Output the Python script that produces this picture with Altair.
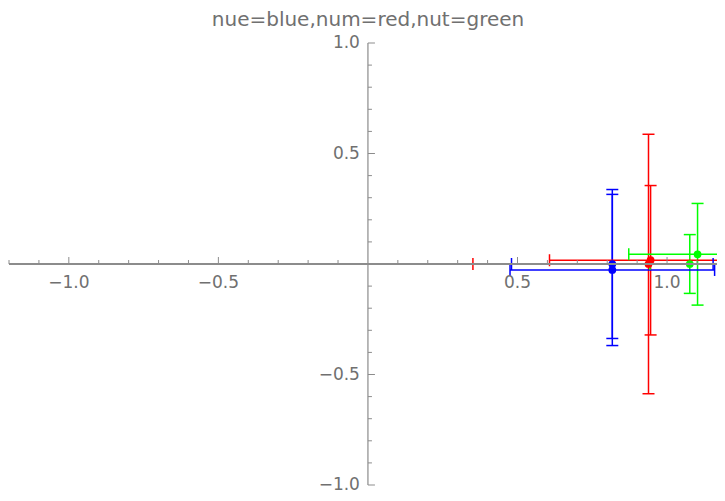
import altair as alt
import pandas as pd

# ---- data ----
series = ["nue", "nue", "num", "num", "nut", "nut"]
x_vals = [0.817, 0.817, 0.938, 0.945, 1.076, 1.102]
y_vals = [0.0, -0.027, 0.0, 0.017, 0.0, 0.044]
errors = [0.337, 0.342, 0.587, 0.338, 0.133, 0.230]

series_names = ["nue", "num", "nut"]
series_colors = ["#0000ff", "#ff0000", "#00ff00"]

title_text = ["nue=blue,num=red,nut=green"]

x_domain = [-1.2, 1.167]
y_domain = [-1.0, 1.0]

x_minor_ticks = [-1.2, -1.1, -0.9, -0.8, -0.7, -0.6, -0.4, -0.3, -0.2, -0.1,
                 0.1, 0.2, 0.3, 0.4, 0.6, 0.7, 0.8, 0.9, 1.1]
x_major_ticks = [-1.0, -0.5, 0.5, 1.0]
x_tick_labels = ["\u22121.0", "\u22120.5", "0.5", "1.0"]

y_minor_ticks = [-0.9, -0.8, -0.7, -0.6, -0.4, -0.3, -0.2, -0.1,
                 0.1, 0.2, 0.3, 0.4, 0.6, 0.7, 0.8, 0.9]
y_major_ticks = [-1.0, -0.5, 0.5, 1.0]
y_tick_labels = ["\u22121.0", "\u22120.5", "0.5", "1.0"]

AXIS_COLOR = "#8c8c8c"
TEXT_COLOR = "#707070"
FONT = "DejaVu Sans"

# ---- tables ----
df = pd.DataFrame({"s": series, "x": x_vals, "y": y_vals, "e": errors})
df["xlo"] = df["x"] - df["e"]
df["xhi"] = df["x"] + df["e"]
df["ylo"] = df["y"] - df["e"]
df["yhi"] = df["y"] + df["e"]

xs = alt.Scale(domain=x_domain, nice=False, zero=False)
ys = alt.Scale(domain=y_domain, nice=False, zero=False)
col = alt.Color("s:N", scale=alt.Scale(domain=series_names, range=series_colors), legend=None)


def X(f):
    return alt.X(f, type="quantitative", scale=xs, axis=None)


def Y(f):
    return alt.Y(f, type="quantitative", scale=ys, axis=None)


base = alt.Chart(df)

v_bars = base.mark_rule(strokeWidth=1.5, clip=True).encode(
    x=X("x"), y=Y("ylo"), y2="yhi", color=col)
h_bars = base.mark_rule(strokeWidth=1.5, clip=True).encode(
    x=X("xlo"), x2="xhi", y=Y("y"), color=col)
v_cap_lo = base.mark_tick(orient="horizontal", size=12, thickness=1.5, opacity=1, clip=True).encode(
    x=X("x"), y=Y("ylo"), color=col)
v_cap_hi = base.mark_tick(orient="horizontal", size=12, thickness=1.5, opacity=1, clip=True).encode(
    x=X("x"), y=Y("yhi"), color=col)
h_cap_lo = base.mark_tick(orient="vertical", size=12, thickness=1.5, opacity=1, clip=True).encode(
    x=X("xlo"), y=Y("y"), color=col)
h_cap_hi = base.mark_tick(orient="vertical", size=12, thickness=1.5, opacity=1, clip=True).encode(
    x=X("xhi"), y=Y("y"), color=col)
points = base.mark_circle(size=60, opacity=1, clip=True).encode(
    x=X("x"), y=Y("y"), color=col)

# ---- axes through the origin (drawn in front, as in the reference) ----
x_line = alt.Chart(pd.DataFrame({"a": [x_domain[0]], "b": [x_domain[1]], "y": [0.0]})).mark_rule(
    color=AXIS_COLOR, strokeWidth=2).encode(x=X("a"), x2="b", y=Y("y"))
y_line = alt.Chart(pd.DataFrame({"x": [0.0], "a": [y_domain[0]], "b": [y_domain[1]]})).mark_rule(
    color=AXIS_COLOR, strokeWidth=1.2).encode(x=X("x"), y=Y("a"), y2="b")

xt_minor = alt.Chart(pd.DataFrame({"v": x_minor_ticks, "z": 0.0})).mark_tick(
    orient="vertical", size=4, thickness=1, color=AXIS_COLOR, opacity=1, yOffset=-2).encode(
    x=X("v"), y=Y("z"))
xt_major = alt.Chart(pd.DataFrame({"v": x_major_ticks, "z": 0.0})).mark_tick(
    orient="vertical", size=7, thickness=1, color=AXIS_COLOR, opacity=1, yOffset=-3.5).encode(
    x=X("v"), y=Y("z"))
yt_minor = alt.Chart(pd.DataFrame({"v": y_minor_ticks, "z": 0.0})).mark_tick(
    orient="horizontal", size=4, thickness=1, color=AXIS_COLOR, opacity=1, xOffset=2).encode(
    x=X("z"), y=Y("v"))
yt_major = alt.Chart(pd.DataFrame({"v": y_major_ticks, "z": 0.0})).mark_tick(
    orient="horizontal", size=7, thickness=1, color=AXIS_COLOR, opacity=1, xOffset=3.5).encode(
    x=X("z"), y=Y("v"))

x_labels = alt.Chart(pd.DataFrame({"v": x_major_ticks, "t": x_tick_labels, "z": 0.0})).mark_text(
    font=FONT, fontSize=17, color=TEXT_COLOR, align="center", baseline="middle", dy=19).encode(
    x=X("v"), y=Y("z"), text="t:N")
y_labels = alt.Chart(pd.DataFrame({"v": y_major_ticks, "t": y_tick_labels, "z": 0.0})).mark_text(
    font=FONT, fontSize=17, color=TEXT_COLOR, align="right", baseline="middle", dx=-8).encode(
    x=X("z"), y=Y("v"), text="t:N")

title = alt.Chart(pd.DataFrame({"t": title_text})).mark_text(
    font=FONT, fontSize=20, color=TEXT_COLOR, align="center", baseline="alphabetic").encode(
    x=alt.value(359), y=alt.value(-17), text="t:N")

chart = alt.layer(
    v_bars, h_bars, v_cap_lo, v_cap_hi, h_cap_lo, h_cap_hi, points,
    x_line, y_line, xt_minor, xt_major, yt_minor, yt_major, x_labels, y_labels, title,
).properties(
    width=708,
    height=442,
    autosize="none",
    padding={"left": 1, "top": 35, "right": 0, "bottom": 8},
).configure_view(stroke=None)

chart.save("out.html", embed_options={"renderer": "svg", "actions": False})
